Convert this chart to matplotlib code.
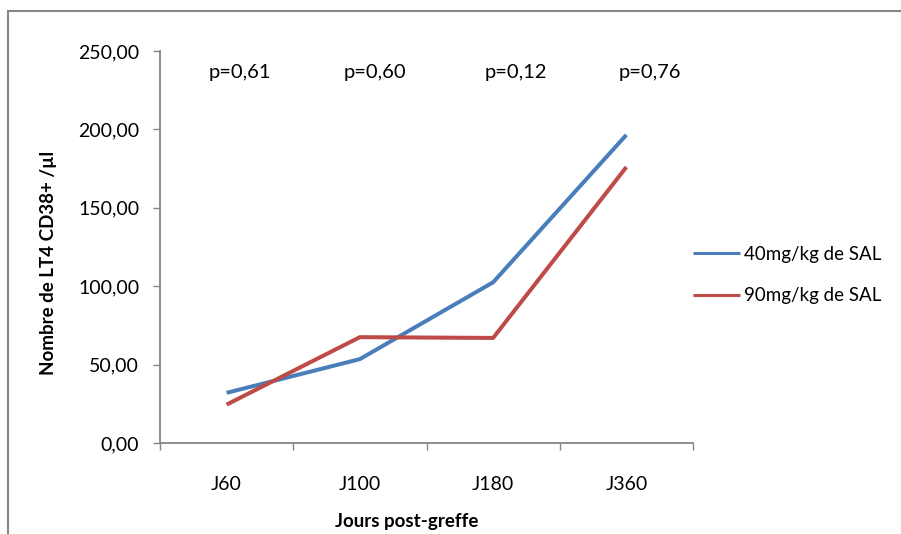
import matplotlib
matplotlib.use("Agg")
import matplotlib.pyplot as plt
from matplotlib.ticker import FuncFormatter, FixedLocator
from matplotlib.lines import Line2D

plt.rcParams['font.family'] = ['Lato', 'DejaVu Sans']

categories = ["J60", "J100", "J180", "J360"]
series_40 = [32.0, 53.5, 102.5, 196.5]
series_90 = [24.5, 67.5, 67.0, 176.0]
series_names = ["40mg/kg de SAL", "90mg/kg de SAL"]
p_labels = ["p=0,61", "p=0,60", "p=0,12", "p=0,76"]
p_x = [0.10, 1.11, 2.17, 3.18]
p_y = 236
yticks = [0, 50, 100, 150, 200, 250]

W, H = 901, 534
fig = plt.figure(figsize=(W / 100, H / 100), dpi=100)
ax = fig.add_axes([160 / W, 1 - 443 / H, 533 / W, 392 / H])

x = list(range(len(categories)))
ax.plot(x, series_40, color="#4A7EBB", lw=2.9, solid_capstyle="butt", label=series_names[0])
ax.plot(x, series_90, color="#BE4B48", lw=2.9, solid_capstyle="butt", label=series_names[1])

ax.set_xlim(-0.5, len(categories) - 0.5)
ax.set_ylim(0, 250)
ax.set_yticks(yticks)
ax.yaxis.set_major_formatter(FuncFormatter(lambda v, p: f"{v:.2f}".replace(".", ",")))
ax.set_xticks(x)
ax.set_xticklabels(categories)
ax.xaxis.set_minor_locator(FixedLocator([i - 0.5 for i in range(len(categories) + 1)]))

for s in ["top", "right"]:
    ax.spines[s].set_visible(False)
for s in ["left", "bottom"]:
    ax.spines[s].set_color("#868686")
    ax.spines[s].set_linewidth(1.3)

ax.tick_params(axis="y", length=5, width=1, color="#868686", labelsize=14, pad=10)
ax.tick_params(axis="x", which="major", length=0, labelsize=14, pad=24)
ax.tick_params(axis="x", which="minor", length=5, width=1, color="#868686")

for px, lab in zip(p_x, p_labels):
    ax.text(px, p_y, lab, ha="center", va="center", fontsize=14.5)

ax.set_ylabel("Nombre de LT4 CD38+ /µl", fontsize=13.5, fontweight="bold")
ax.yaxis.set_label_coords((57 - 160) / 533, 0.46)
fig.text(407 / W, 1 - 521 / H, "Jours post-greffe", ha="center", va="center",
         fontsize=13.5, fontweight="bold")

leg = ax.legend(loc="center left", bbox_to_anchor=(693 / W, 1 - 275 / H),
                bbox_transform=fig.transFigure, frameon=False, fontsize=13.5,
                handlelength=2.5, handletextpad=0.2, labelspacing=1.3,
                borderaxespad=0, borderpad=0)
for h in leg.get_lines():
    h.set_linewidth(2.2)

fig.add_artist(Line2D([8 / W, 8 / W], [0, 1 - 11 / H], transform=fig.transFigure, color="#868686", lw=1.5))
fig.add_artist(Line2D([8 / W, 1], [1 - 11 / H, 1 - 11 / H], transform=fig.transFigure, color="#868686", lw=1.5))

fig.savefig("out.png", dpi=100)
